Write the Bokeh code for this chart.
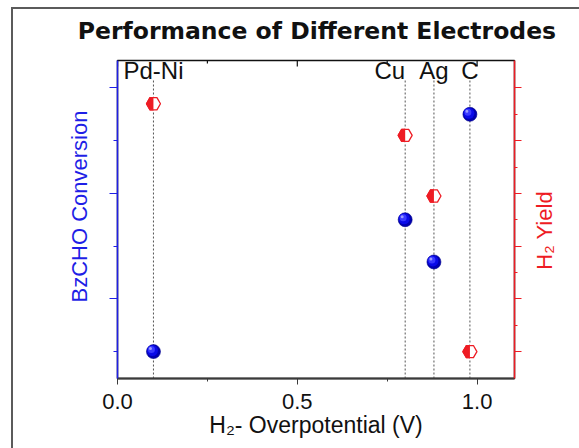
import numpy as np
from bokeh.plotting import figure
from bokeh.models import ColumnDataSource, FixedTicker, LinearAxis, Range1d, Title
from bokeh.transform import dodge
from bokeh.layouts import row, column
from bokeh.core.properties import value
from bokeh.embed import file_html
from bokeh.resources import INLINE

# --- data -----------------------------------------------------------------
electrodes = ["Pd-Ni", "Cu", "Ag", "C"]
overpotential = [0.10, 0.80, 0.88, 0.98]      # H2 overpotential (V)
bzcho_conversion = [0, 50, 34, 90]            # BzCHO conversion (%)
h2_yield = [94, 82, 59, 0]                    # H2 yield (%)

x_major_ticks = [0.0, 0.5, 1.0]
x_minor_ticks = [0.25, 0.75]
x_tick_labels = ["0.0", "0.5", "1.0"]
left_major_ticks = [20, 60, 100]
left_minor_ticks = [0, 40, 80]
right_major_ticks = [0, 20, 40, 60, 80, 100]
right_minor_ticks = [10, 30, 50, 70, 90]

# --- styling ----------------------------------------------------------------
FONT = "Liberation Sans"
BLUE = "#1f1fe6"
RED = "#ee1c24"
INK = "#111111"
label_x = [0.10, 0.80, 0.88, 0.98]
label_align = ["center", "right", "center", "center"]
LABEL_Y = 106.6
GUIDE_TOP = 103
TITLE_X, TITLE_Y = 0.5465, 0.475
RIGHT_TITLE_X, RIGHT_TITLE_Y = 0.31, 46
X_END, Y_START, Y_END = 1.104, -10.2, 110.4

src = ColumnDataSource(dict(x=overpotential, conv=bzcho_conversion, h2=h2_yield))
names = ColumnDataSource(dict(x=label_x, name=electrodes, align=label_align))


def strip(width, height, **kw):
    """A bare figure used only to carry a piece of text."""
    f = figure(width=width, height=height, output_backend="svg", toolbar_location=None,
               x_axis_location=None, y_axis_location=None,
               min_border_left=0, min_border_right=0,
               outline_line_color=None, background_fill_color=None,
               border_fill_color=None, **kw)
    f.grid.visible = False
    return f


# heading strip
head = strip(579, 58, x_range=Range1d(0, 1), y_range=Range1d(0, 1),
             min_border_top=0, min_border_bottom=0)
head.text(x=[TITLE_X], y=[TITLE_Y], text=["Performance of Different Electrodes"],
          text_align="center", text_baseline="alphabetic",
          text_font=value("DejaVu Sans"), text_font_style="bold",
          text_font_size="23.5px", text_color=INK)

# main chart
p = figure(width=528, height=390,
           x_range=Range1d(0, X_END), y_range=Range1d(Y_START, Y_END),
           output_backend="svg", toolbar_location=None,
           min_border_left=117, min_border_right=14,
           min_border_top=2, min_border_bottom=70,
           outline_line_color=INK, outline_line_width=1.5,
           background_fill_color="white", border_fill_color=None)
p.xgrid.visible = False
p.ygrid.visible = False

# bottom axis
xa = p.xaxis[0]
xa.ticker = FixedTicker(ticks=x_major_ticks, minor_ticks=x_minor_ticks)
xa.major_label_overrides = dict(zip(x_major_ticks, x_tick_labels))
xa.axis_line_color = "#3a3a3a"
xa.axis_line_width = 2
xa.major_tick_line_color = "#3a3a3a"
xa.minor_tick_line_color = "#3a3a3a"
xa.major_tick_out, xa.major_tick_in = 6, 0
xa.minor_tick_out, xa.minor_tick_in = 3, 0
xa.major_label_text_font = FONT
xa.major_label_text_font_size = "22px"
xa.major_label_text_color = INK
xa.major_label_standoff = 9
xa.axis_label = "H\u2082- Overpotential (V)"
xa.axis_label_text_font = FONT
xa.axis_label_text_font_style = "normal"
xa.axis_label_text_font_size = "23px"
xa.axis_label_text_color = INK
xa.axis_label_standoff = 0

# unlabelled axes: tick marks only
hidden_labels = dict(major_label_text_font_size="1px", major_label_text_color=None,
                     major_label_standoff=0)

# left axis (BzCHO conversion)
ya = p.yaxis[0]
ya.ticker = FixedTicker(ticks=left_major_ticks, minor_ticks=left_minor_ticks)
for k, v in hidden_labels.items():
    setattr(ya, k, v)
ya.axis_line_color = BLUE
ya.axis_line_width = 1.5
ya.major_tick_line_color = BLUE
ya.minor_tick_line_color = BLUE
ya.major_tick_out, ya.major_tick_in = 8, 0
ya.minor_tick_out, ya.minor_tick_in = 4, 0

p.add_layout(Title(text="BzCHO Conversion", align="left", offset=76,
                   vertical_align="bottom", standoff=36,
                   text_font=FONT, text_font_style="normal",
                   text_font_size="22px", text_color=BLUE), "left")

# right axis (H2 yield)
ra = LinearAxis(ticker=FixedTicker(ticks=right_major_ticks, minor_ticks=right_minor_ticks),
                axis_line_color=RED, axis_line_width=1.5,
                major_tick_line_color=RED, minor_tick_line_color=RED,
                major_tick_out=7, major_tick_in=0, minor_tick_out=3, minor_tick_in=0,
                **hidden_labels)
p.add_layout(ra, "right")

# top edge ticks, pointing inward
p.ray(x=x_major_ticks, y=Y_END, length=6, length_units="screen",
      angle=-np.pi / 2, line_color=INK, line_width=1.2)
p.ray(x=x_minor_ticks, y=Y_END, length=3, length_units="screen",
      angle=-np.pi / 2, line_color=INK, line_width=1.2)

# dotted guides under each electrode
p.segment(x0="x", y0=Y_START, x1="x", y1=GUIDE_TOP, source=src,
          line_color="#555555", line_width=1, line_dash="2 2")

# electrode names
p.text(x="x", y=LABEL_Y, text="name", source=names, text_align="align",
       text_baseline="alphabetic", text_font=value(FONT),
       text_font_size="24px", text_color=INK)

# H2 yield: half-filled hexagons
p.scatter("x", "h2", source=src, marker="hex", size=14,
          fill_color=RED, line_color=RED, line_width=1.2)
p.wedge("x", "h2", source=src, radius=8, radius_units="screen",
        start_angle=-np.pi / 2, end_angle=np.pi / 2,
        fill_color="white", line_color=None)
p.scatter("x", "h2", source=src, marker="hex", size=14,
          fill_color=None, line_color=RED, line_width=1.3)

# BzCHO conversion: shaded spheres
p.scatter("x", "conv", source=src, size=14, fill_color="#0000b0",
          line_color="#00008c", line_width=0.6)
p.scatter(dodge("x", -0.0028), dodge("conv", 0.38), source=src, size=11,
          fill_color="#0a0ae8", line_color=None)
p.scatter(dodge("x", -0.0056), dodge("conv", 0.76), source=src, size=7,
          fill_color="#3a3aff", line_color=None)
p.scatter(dodge("x", -0.0084), dodge("conv", 1.14), source=src, size=3,
          fill_color="#9a9aff", line_color=None)

# strip on the right carrying the H2 yield title (reads upward)
side = strip(51, 390, x_range=Range1d(0, 1), y_range=p.y_range,
             min_border_top=2, min_border_bottom=70)
side.text(x=[RIGHT_TITLE_X], y=[RIGHT_TITLE_Y], text=["H\u2082 Yield"],
          angle=np.pi / 2, text_align="center", text_baseline="middle",
          text_font=value(FONT), text_font_size="22px", text_color=RED)

page = column(head, row(p, side, spacing=0), spacing=0)
# slide frame behind the chart (left and top rules)
page.styles = {
    "background-color": "white",
    "background-image": "linear-gradient(#5b5b5b, #5b5b5b), linear-gradient(#5b5b5b, #5b5b5b)",
    "background-position": "11px 7px, 11px 7px",
    "background-size": "2px 100%, 100% 2px",
    "background-repeat": "no-repeat",
}

open("out.html", "w").write(file_html(page, INLINE))
